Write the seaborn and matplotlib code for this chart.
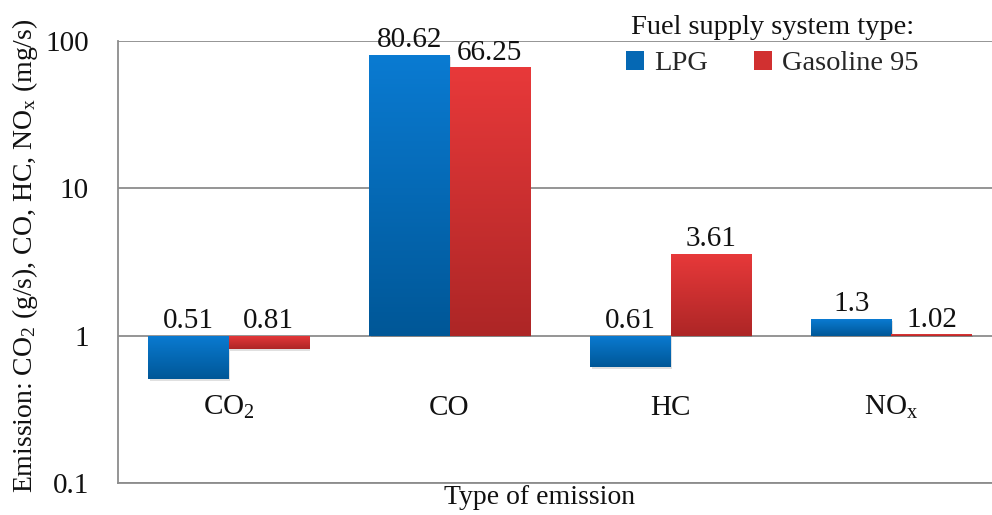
import numpy as np
import pandas as pd
import matplotlib
matplotlib.use("Agg")
import matplotlib.pyplot as plt
import seaborn as sns
from matplotlib.colors import LinearSegmentedColormap
from matplotlib.patches import Patch

# ---- data ----
categories = [r"CO$_2$", "CO", "HC", r"NO$_\mathregular{x}$"]
lpg = [0.51, 80.62, 0.61, 1.3]
gasoline = [0.81, 66.25, 3.61, 1.02]
series_names = ["LPG", "Gasoline 95"]
y_ticks = [0.1, 1, 10, 100]
y_tick_labels = ["0.1", "1", "10", "100"]

sns.set_style("white")
plt.rcParams["font.family"] = ["Liberation Serif", "DejaVu Serif"]
plt.rcParams["mathtext.fontset"] = "custom"
plt.rcParams["mathtext.rm"] = "Liberation Serif"
plt.rcParams["mathtext.it"] = "Liberation Serif:italic"
plt.rcParams["mathtext.default"] = "regular"

df = pd.DataFrame({
    "cat": categories * 2,
    "fuel": [series_names[0]] * 4 + [series_names[1]] * 4,
    "value": lpg + gasoline,
})
df["logv"] = np.log10(df["value"])

fig = plt.figure(figsize=(9.92, 5.15), dpi=100)
ax = fig.add_axes([118 / 992, 1 - 483 / 515, (1002 - 118) / 992, (483 - 41) / 515])

top_cols = {"LPG": "#0a7bd2", "Gasoline 95": "#e8393a"}
bot_cols = {"LPG": "#005797", "Gasoline 95": "#ad2626"}

sns.barplot(data=df, x="cat", y="logv", hue="fuel", order=categories,
            hue_order=series_names, width=0.724, palette=top_cols,
            ax=ax, legend=False, saturation=1, errorbar=None)

ax.set_xlim(-0.5, 3.5)
ax.set_ylim(-1, 2)

# gradient fills
grad = np.linspace(0, 1, 256).reshape(-1, 1)
patches = list(ax.patches)
for i, p in enumerate(patches):
    name = series_names[i // len(categories)]
    cmap = LinearSegmentedColormap.from_list(name, [top_cols[name], bot_cols[name]])
    x0 = p.get_x(); w = p.get_width()
    y0 = p.get_y(); h = p.get_height()
    ylo, yhi = min(y0, y0 + h), max(y0, y0 + h)
    # soft shadow
    ax.add_patch(plt.Rectangle((x0 + 0.006, ylo - 0.012), w, yhi - ylo,
                               facecolor="#000000", alpha=0.12, zorder=1.5, lw=0))
    p.set_facecolor("none"); p.set_edgecolor("none"); p.set_zorder(2)
    im = ax.imshow(grad, extent=(x0, x0 + w, ylo, yhi), origin="upper",
                   cmap=cmap, aspect="auto", zorder=2, interpolation="bilinear")
    im.set_clip_path(p)

ax.set_xlim(-0.5, 3.5)
ax.set_ylim(-1, 2)

# value labels
for ci in range(len(categories)):
    for si, vals in enumerate([lpg, gasoline]):
        v = vals[ci]
        xc = ci + (-0.181 if si == 0 else 0.181)
        ybase = max(np.log10(v), 0)
        ax.annotate(f"{v:g}", (xc, ybase), xytext=(0, 1), textcoords="offset points",
                    ha="center", va="bottom", fontsize=21, color="#111111", zorder=4)

# category labels
for ci, c in enumerate(categories):
    ax.text(ci, -0.49, c, ha="center", va="center", fontsize=21, color="#111111")

# axes styling
ax.set_yticks(np.log10(y_ticks))
ax.set_yticklabels(y_tick_labels, fontsize=21, color="#111111")
ax.tick_params(axis="y", length=0, pad=21)
ax.set_xticks([])
ax.set_xlabel(""); ax.set_ylabel("")
for yv in np.log10(y_ticks):
    ax.axhline(yv, color="#8c8c8c", lw=1.3, zorder=1)
for s in ["top", "right"]:
    ax.spines[s].set_visible(False)
for s in ["left", "bottom"]:
    ax.spines[s].set_color("#8c8c8c"); ax.spines[s].set_linewidth(1.3)

fig.text(540 / 992, 1 - 497 / 515, "Type of emission", ha="center", va="center",
         fontsize=20, color="#111111")
fig.text(25 / 992, 1 - 256 / 515,
         r"Emission: CO$_2$ (g/s), CO, HC, NO$_\mathregular{x}$ (mg/s)",
         rotation=90, ha="center", va="center", fontsize=20, color="#111111")

handles = [Patch(facecolor="#0568b4", edgecolor="none"),
           Patch(facecolor="#d13030", edgecolor="none")]
leg = ax.legend(handles, series_names, title="Fuel supply system type:", ncol=2,
                frameon=False, fontsize=20.5, title_fontsize=20.5,
                handlelength=0.65, handleheight=0.65, handletextpad=0.35,
                columnspacing=1.6, loc="upper left",
                bbox_to_anchor=(606 / 992, 1 + 5 / 515), bbox_transform=fig.transFigure,
                borderpad=0.2, labelspacing=0.38)
leg.get_title().set_color("#111111")

fig.savefig("out.png", dpi=100)
